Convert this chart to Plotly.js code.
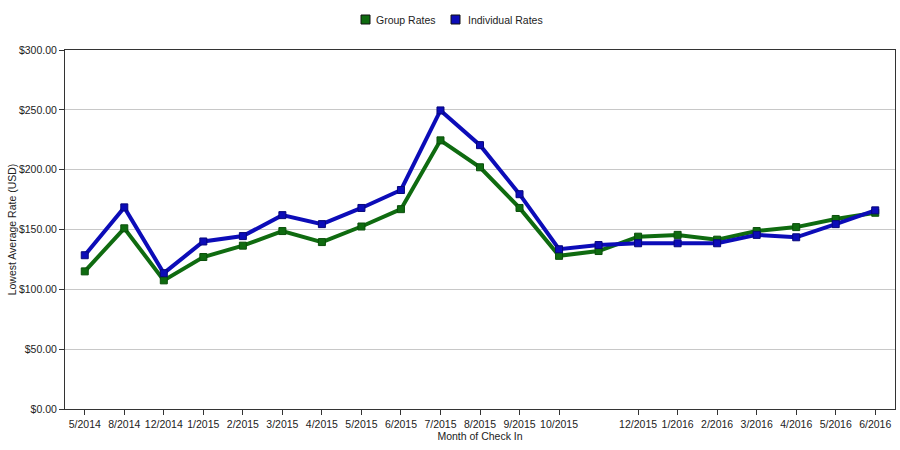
<!DOCTYPE html>
<html>
<head>
<meta charset="utf-8">
<script src="https://cdn.plot.ly/plotly-3.0.1.min.js"></script>
<style>html,body{margin:0;padding:0;background:#fff;}#chart{width:900px;height:450px;}</style>
</head>
<body>
<div id="chart"></div>
<script>
const months = ["5/2014","8/2014","12/2014","1/2015","2/2015","3/2015","4/2015","5/2015","6/2015","7/2015","8/2015","9/2015","10/2015","11/2015","12/2015","1/2016","2/2016","3/2016","4/2016","5/2016","6/2016"];
const tickMonths = ["5/2014","8/2014","12/2014","1/2015","2/2015","3/2015","4/2015","5/2015","6/2015","7/2015","8/2015","9/2015","10/2015","12/2015","1/2016","2/2016","3/2016","4/2016","5/2016","6/2016"];
const groupRates = [115, 151, 107.5, 127, 136.5, 148.7, 139.5, 152.5, 167, 224.5, 202, 168, 128, 132, 144, 145.5, 141.5, 148.7, 152, 158.8, 164];
const individualRates = [128.5, 168.5, 113.5, 140, 144.5, 162, 154.5, 168, 183, 249.5, 220.5, 179.5, 133.5, 137, 138.5, 138.5, 138.5, 145.5, 143.5, 154.5, 166];
const yTicks = [0, 50, 100, 150, 200, 250, 300];
const seriesNames = ["Group Rates", "Individual Rates"];

const green = "#0f6b10";
const blue = "#0c0cb8";
const font = {family: "Liberation Sans, Arial, sans-serif", size: 10.5, color: "#222"};

const traces = [
  {x: months, y: groupRates, type: "scatter", mode: "lines+markers", name: seriesNames[0], showlegend: false,
   line: {color: green, width: 4}, marker: {symbol: "square", size: 7, color: green, line: {color: "#0a4f0a", width: 1}}},
  {x: months, y: individualRates, type: "scatter", mode: "lines+markers", name: seriesNames[1], showlegend: false,
   line: {color: blue, width: 4}, marker: {symbol: "square", size: 7, color: blue, line: {color: "#07077a", width: 1}}}
];

// legend drawn as paper-positioned keys
const px = v => (v - 65) / 830;
const py = v => (409 - v) / 359;
const legendItems = [
  {name: seriesNames[0], color: green, sx: 362, tx: 374},
  {name: seriesNames[1], color: blue, sx: 452, tx: 466}
];
const shapes = legendItems.map(it => ({
  type: "rect", xref: "paper", yref: "paper",
  x0: px(it.sx - 1), x1: px(it.sx + 8), y0: py(24), y1: py(15),
  fillcolor: it.color, line: {color: "#111", width: 1}
}));
const annotations = legendItems.map(it => ({
  xref: "paper", yref: "paper", x: px(it.tx), y: py(20), xanchor: "left", yanchor: "middle",
  text: it.name, showarrow: false, font: font
}));

const layout = {
  width: 900, height: 450,
  margin: {l: 65, r: 5, t: 50, b: 41},
  paper_bgcolor: "#fff", plot_bgcolor: "#fff",
  font: font,
  showlegend: false,
  shapes: shapes,
  annotations: annotations,
  xaxis: {
    type: "category", categoryorder: "array", categoryarray: months,
    range: [-0.5, months.length - 0.5],
    tickmode: "array", tickvals: tickMonths, ticktext: tickMonths,
    ticks: "outside", ticklen: 5, tickcolor: "#333",
    showgrid: false, showline: true, linecolor: "#333", linewidth: 1, mirror: true,
    tickfont: font, zeroline: false,
    title: {text: "Month of Check In", font: font, standoff: 4}
  },
  yaxis: {
    range: [0, 300], tickmode: "array", tickvals: yTicks,
    ticktext: yTicks.map(v => "$" + v.toFixed(2)),
    ticks: "outside", ticklen: 5, tickcolor: "#333",
    showgrid: true, gridcolor: "#c8c8c8", gridwidth: 1,
    showline: true, linecolor: "#333", linewidth: 1, mirror: true,
    zeroline: false, tickfont: font,
    title: {text: "Lowest Average Rate (USD)", font: font, standoff: 0}
  }
};

Plotly.newPlot("chart", traces, layout, {displayModeBar: false, staticPlot: true});
</script>
</body>
</html>
